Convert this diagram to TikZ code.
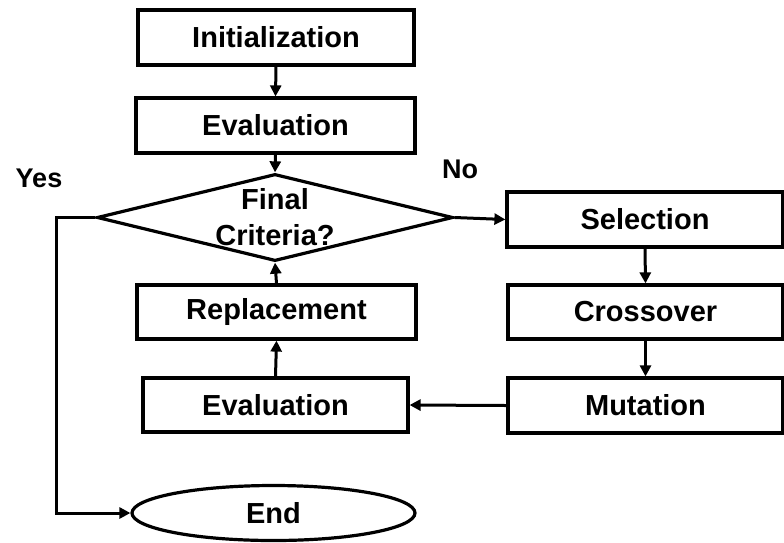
\documentclass[tikz,border=0pt]{standalone}
\usepackage{fontspec}
\setmainfont{Liberation Sans}
\usetikzlibrary{shapes.geometric,arrows.meta}
\begin{document}
\begin{tikzpicture}[x=1pt,y=-1pt,
  every node/.style={font=\bfseries\fontsize{29}{36}\selectfont},
  procbox/.style={draw,line width=3.2pt,rectangle,inner sep=0pt,minimum height=55pt},
  decbox/.style={draw,line width=3.2pt,diamond,aspect=4,inner sep=0pt,minimum width=356pt,minimum height=86pt,align=center},
  endbox/.style={draw,line width=3.2pt,ellipse,inner sep=0pt,minimum width=283pt,minimum height=55pt},
  lbl/.style={font=\bfseries\fontsize{27}{32}\selectfont},
  conn/.style={line width=3pt,-{Triangle[length=11pt,width=11pt]}}
]
\useasboundingbox (0,0) rectangle (784,542);
\node[procbox,minimum width=276pt] (init) at (276,37.5) {Initialization};
\node[procbox,minimum width=279pt] (eval1) at (275.5,125.5) {Evaluation};
\node[decbox] (dec) at (275,217.5) {Final\\Criteria?};
\node[procbox,minimum width=276pt] (sel) at (645,219.5) {Selection};
\node[procbox,minimum width=275pt,minimum height=54pt] (cross) at (645.5,312) {Crossover};
\node[procbox,minimum width=275pt] (mut) at (645.5,405.5) {Mutation};
\node[procbox,minimum width=279pt,minimum height=54pt] (repl) at (276.5,312) {Replacement};
\node[procbox,minimum width=265pt,minimum height=54pt] (eval2) at (275.5,405) {Evaluation};
\node[endbox] (end) at (273.5,513) {End};
\node[lbl] (yes) at (39,178) {Yes};
\node[lbl] (no) at (460,169) {No};
\coordinate (c1) at (56,217.5);
\coordinate (c2) at (56,513);
\draw[conn] (init.south) -- (eval1.north);
\draw[conn] (eval1.south) -- (dec.north);
\draw[conn] (dec.east) -- (sel.west);
\draw[conn] (sel.south) -- (cross.north);
\draw[conn] (cross.south) -- (mut.north);
\draw[conn] (mut.west) -- (eval2.east);
\draw[conn] (eval2.north) -- (repl.south);
\draw[conn] (repl.north) -- (dec.south);
\draw[conn] (dec.west) -- (c1) -- (c2) -- (end.west);
\end{tikzpicture}
\end{document}
